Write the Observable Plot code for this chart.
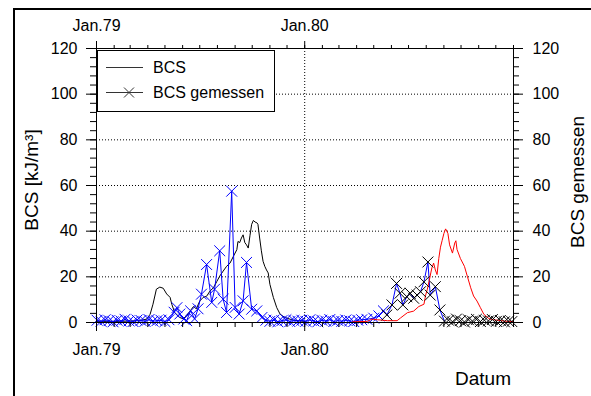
<!DOCTYPE html>
<html><head><meta charset="utf-8">
<script src="https://cdn.jsdelivr.net/npm/d3@7"></script>
<script src="https://cdn.jsdelivr.net/npm/@observablehq/plot@0.6"></script>
<style>
html,body{margin:0;padding:0;background:#fff;}
#chart{position:relative;width:591px;height:396px;overflow:hidden;}
</style></head><body><div id="chart"></div>
<script>
// ---- data ----
const bcs79Dates = ["1979-01-01","1979-02-11","1979-03-18","1979-03-30","1979-04-05","1979-04-10","1979-04-16","1979-04-22","1979-04-28","1979-05-04","1979-05-10","1979-05-13","1979-05-18","1979-05-27","1979-06-02","1979-06-08","1979-06-14","1979-06-20","1979-06-25","1979-07-01","1979-07-07","1979-07-13","1979-07-19","1979-07-25","1979-07-31","1979-08-05","1979-08-11","1979-08-17","1979-08-23","1979-08-29","1979-09-04","1979-09-06","1979-09-09","1979-09-12","1979-09-15","1979-09-18","1979-09-21","1979-09-24","1979-09-27","1979-09-30","1979-10-03","1979-10-06","1979-10-09","1979-10-11","1979-10-14","1979-10-17","1979-10-20","1979-10-23","1979-10-26","1979-10-29","1979-11-01","1979-11-07","1979-11-13","1979-11-19","1979-11-27","1979-12-12","1979-12-31"];
const bcs79Values = [0.5,0.5,0.8,1.5,3.6,8,14.6,15.5,15,12.5,11,8,4.4,2.2,1.6,3,5,7,6,9.4,11,11.5,13.8,15.2,18,20.3,22.5,24.6,26,29,31.9,35.5,35,37,38.4,35,34,32.6,38,43,44.7,44,43.7,43,37,31.4,26.8,24.6,23,21.7,16.7,11,6.5,3.6,2.2,1,0.5];

const bcs80Dates = ["1980-03-25","1980-04-20","1980-04-28","1980-05-08","1980-05-25","1980-06-11","1980-06-17","1980-06-29","1980-07-10","1980-07-19","1980-07-28","1980-07-31","1980-08-03","1980-08-06","1980-08-09","1980-08-11","1980-08-14","1980-08-17","1980-08-20","1980-08-23","1980-08-26","1980-08-29","1980-09-01","1980-09-04","1980-09-08","1980-09-11","1980-09-16","1980-09-20","1980-09-22","1980-09-24","1980-09-30","1980-10-07","1980-10-12","1980-10-18","1980-10-23","1980-10-29","1980-11-04","1980-11-10","1980-11-19","1980-11-27","1980-12-21","1980-12-31"];
const bcs80Values = [0.3,0.5,1.5,1.2,0.8,0.8,2,4.3,5,7,8,12,14.6,18,21.7,24,26,23,21,28,33,36,39,41,39,34,30.4,34.8,35.8,32,28,24.6,20.3,15.2,11.6,9.4,6.5,3.6,1.7,1.2,0.5,0.4];

const gemBlueDates = ["1979-01-02","1979-01-09","1979-01-16","1979-01-23","1979-01-30","1979-02-06","1979-02-13","1979-02-20","1979-02-27","1979-03-06","1979-03-13","1979-03-20","1979-03-27","1979-04-03","1979-04-10","1979-04-17","1979-04-24","1979-05-01","1979-05-08","1979-05-17","1979-05-22","1979-05-27","1979-06-03","1979-06-08","1979-06-15","1979-06-22","1979-06-28","1979-07-04","1979-07-13","1979-07-22","1979-07-27","1979-08-05","1979-08-11","1979-08-17","1979-08-26","1979-09-01","1979-09-08","1979-09-15","1979-09-21","1979-09-30","1979-10-09","1979-10-18","1979-10-25","1979-11-01","1979-11-08","1979-11-15","1979-11-22","1979-11-29","1979-12-06","1979-12-13","1979-12-20","1979-12-27","1980-01-03","1980-01-10","1980-01-17","1980-01-24","1980-01-31","1980-02-07","1980-02-14","1980-02-21","1980-02-28","1980-03-06","1980-03-13","1980-03-20","1980-03-27","1980-04-03","1980-04-10","1980-04-19","1980-05-01","1980-05-10","1980-05-18"];
const gemBlueValues = [1,0.5,1.2,0.8,0.3,1,0.6,1.4,0.7,0.4,1.1,0.9,0.5,1.3,0.6,0.8,1,0.4,1.2,4.5,6.5,3.7,1.5,0.8,5.1,1.6,6,12.4,25.4,8.8,14.6,31.4,10.2,4.4,57.5,6.6,3.7,9.5,26.3,5.8,5.1,2.2,1,0.5,1.1,0.3,0.8,1.2,0.4,0.9,0.6,1,0.5,1.2,0.7,0.3,1,0.6,1.3,0.4,0.9,0.5,1.1,0.7,0.4,1,1.2,1.4,1.9,2.9,5.1];

const gemBlackDates = ["1980-05-24","1980-06-02","1980-06-10","1980-06-16","1980-06-21","1980-06-28","1980-07-04","1980-07-10","1980-07-16","1980-07-22","1980-07-28","1980-08-04","1980-08-08","1980-08-17","1980-08-25","1980-09-02"];
const gemBlackValues = [3.3,7.7,17.1,12.8,7.7,11.3,12.8,10.6,12,13.5,17.8,26.5,12,15.7,5.5,0.6];

const gemLateDates = ["1980-09-09","1980-09-16","1980-09-23","1980-09-30","1980-10-07","1980-10-14","1980-10-21","1980-10-28","1980-11-04","1980-11-11","1980-11-18","1980-11-25","1980-12-02","1980-12-09","1980-12-16","1980-12-23","1980-12-29"];
const gemLateValues = [1,0.3,1.5,0.8,0.2,1.2,0.6,1.4,0.4,1,0.7,1.3,0.5,0.9,0.3,0.6,0.4];

const yTicks = [0,20,40,60,80,100,120];
const yGrid = [20,40,60,80,100];
const xLabelDates = ["1979-01-01","1980-01-01"];
const xLabels = ["Jan.79","Jan.80"];
const xDomainDates = ["1979-01-01","1981-01-01"];

// ---- build ----
const parse = d3.utcParse("%Y-%m-%d");
const table = (ds, vs) => ds.map((d,i) => ({date: parse(d), value: vs[i]}));
const bcs79 = table(bcs79Dates, bcs79Values);
const bcs80 = table(bcs80Dates, bcs80Values);
const gemBlue = table(gemBlueDates, gemBlueValues);
const gemBlack = table(gemBlackDates, gemBlackValues);
const gemLate = table(gemLateDates, gemLateValues);
const gemLine = gemBlue.concat(gemBlack);
const xDomain = xDomainDates.map(parse);
const years = xLabelDates.map(parse);
const months = d3.utcMonth.range(xDomain[0], d3.utcDay.offset(xDomain[1], 1));
const yMinor = d3.range(0, 121, 4);
const fmt = d => xLabels[years.findIndex(y => +y === +d)];
const font = "'Liberation Sans', Arial, sans-serif";
const blank = () => "";

const plot = Plot.plot({
  width: 591, height: 396,
  marginLeft: 96, marginRight: 78, marginTop: 48, marginBottom: 74,
  style: {fontFamily: font, fontSize: "16px", color: "#000", background: "white", overflow: "visible"},
  x: {type: "utc", domain: xDomain},
  y: {domain: [0, 120]},
  marks: [
    Plot.gridY(yGrid, {stroke: "#000", strokeOpacity: 1, strokeDasharray: "1,2"}),
    Plot.gridX([years[1]], {stroke: "#000", strokeOpacity: 1, strokeDasharray: "1,2"}),
    Plot.line(bcs79, {x: "date", y: "value", stroke: "#000", strokeWidth: 1}),
    Plot.line(gemLine, {x: "date", y: "value", stroke: "#0000ff", strokeWidth: 1}),
    Plot.dot(gemBlue, {x: "date", y: "value", symbol: "times", r: 5, stroke: "#0000ff", strokeWidth: 1}),
    Plot.line(bcs80, {x: "date", y: "value", stroke: "#ff0000", strokeWidth: 1}),
    Plot.dot(gemBlack, {x: "date", y: "value", symbol: "times", r: 5, stroke: "#000", strokeWidth: 1}),
    Plot.dot(gemLate, {x: "date", y: "value", symbol: "times", r: 5, stroke: "#000", strokeWidth: 1}),
    Plot.frame({stroke: "#000"}),
    Plot.axisY(yMinor, {anchor: "left", tickSize: 6, tickFormat: blank, label: null}),
    Plot.axisY(yTicks, {anchor: "left", tickSize: 10, tickPadding: 9, label: null}),
    Plot.axisY(yMinor, {anchor: "right", tickSize: 5, tickFormat: blank, label: null}),
    Plot.axisY(yTicks, {anchor: "right", tickSize: 9, tickPadding: 10, label: null}),
    Plot.axisX(months, {anchor: "top", tickSize: 4, tickFormat: blank, label: null}),
    Plot.axisX(years, {anchor: "top", tickSize: 8, tickPadding: 10, tickFormat: fmt, label: null}),
    Plot.axisX(months, {anchor: "bottom", tickSize: 5, tickFormat: blank, label: null}),
    Plot.axisX(years, {anchor: "bottom", tickSize: 9, tickPadding: 12, tickFormat: fmt, label: null})
  ]
});

const svg = d3.select(plot);
// outer figure border
svg.append("path").attr("d", "M14,396V9H591").attr("fill", "none").attr("stroke", "#000").attr("stroke-width", 2);
// legend
const lg = svg.append("g").attr("font-family", font).attr("font-size", 16).attr("text-anchor", "start");
lg.append("rect").attr("x", 97.5).attr("y", 50.5).attr("width", 177).attr("height", 61)
  .attr("fill", "white").attr("stroke", "#000");
lg.append("line").attr("x1", 106).attr("x2", 143).attr("y1", 67.5).attr("y2", 67.5).attr("stroke", "#333");
lg.append("text").attr("x", 153).attr("y", 73).text("BCS");
lg.append("line").attr("x1", 106).attr("x2", 143).attr("y1", 92.5).attr("y2", 92.5).attr("stroke", "#333");
lg.append("path").attr("d", "M124,87.5L134,97.5M124,97.5L134,87.5").attr("stroke", "#333").attr("fill", "none");
lg.append("text").attr("x", 153).attr("y", 98).text("BCS gemessen");
// axis titles
const tg = svg.append("g").attr("font-family", font).attr("font-size", 19).attr("text-anchor", "middle");
tg.append("text").attr("transform", "translate(38,180) rotate(-90)").text("BCS [kJ/m³]");
tg.append("text").attr("transform", "translate(584,182) rotate(-90)").text("BCS gemessen");
tg.append("text").attr("x", 483).attr("y", 385).text("Datum");

document.getElementById("chart").appendChild(plot);
</script></body></html>
